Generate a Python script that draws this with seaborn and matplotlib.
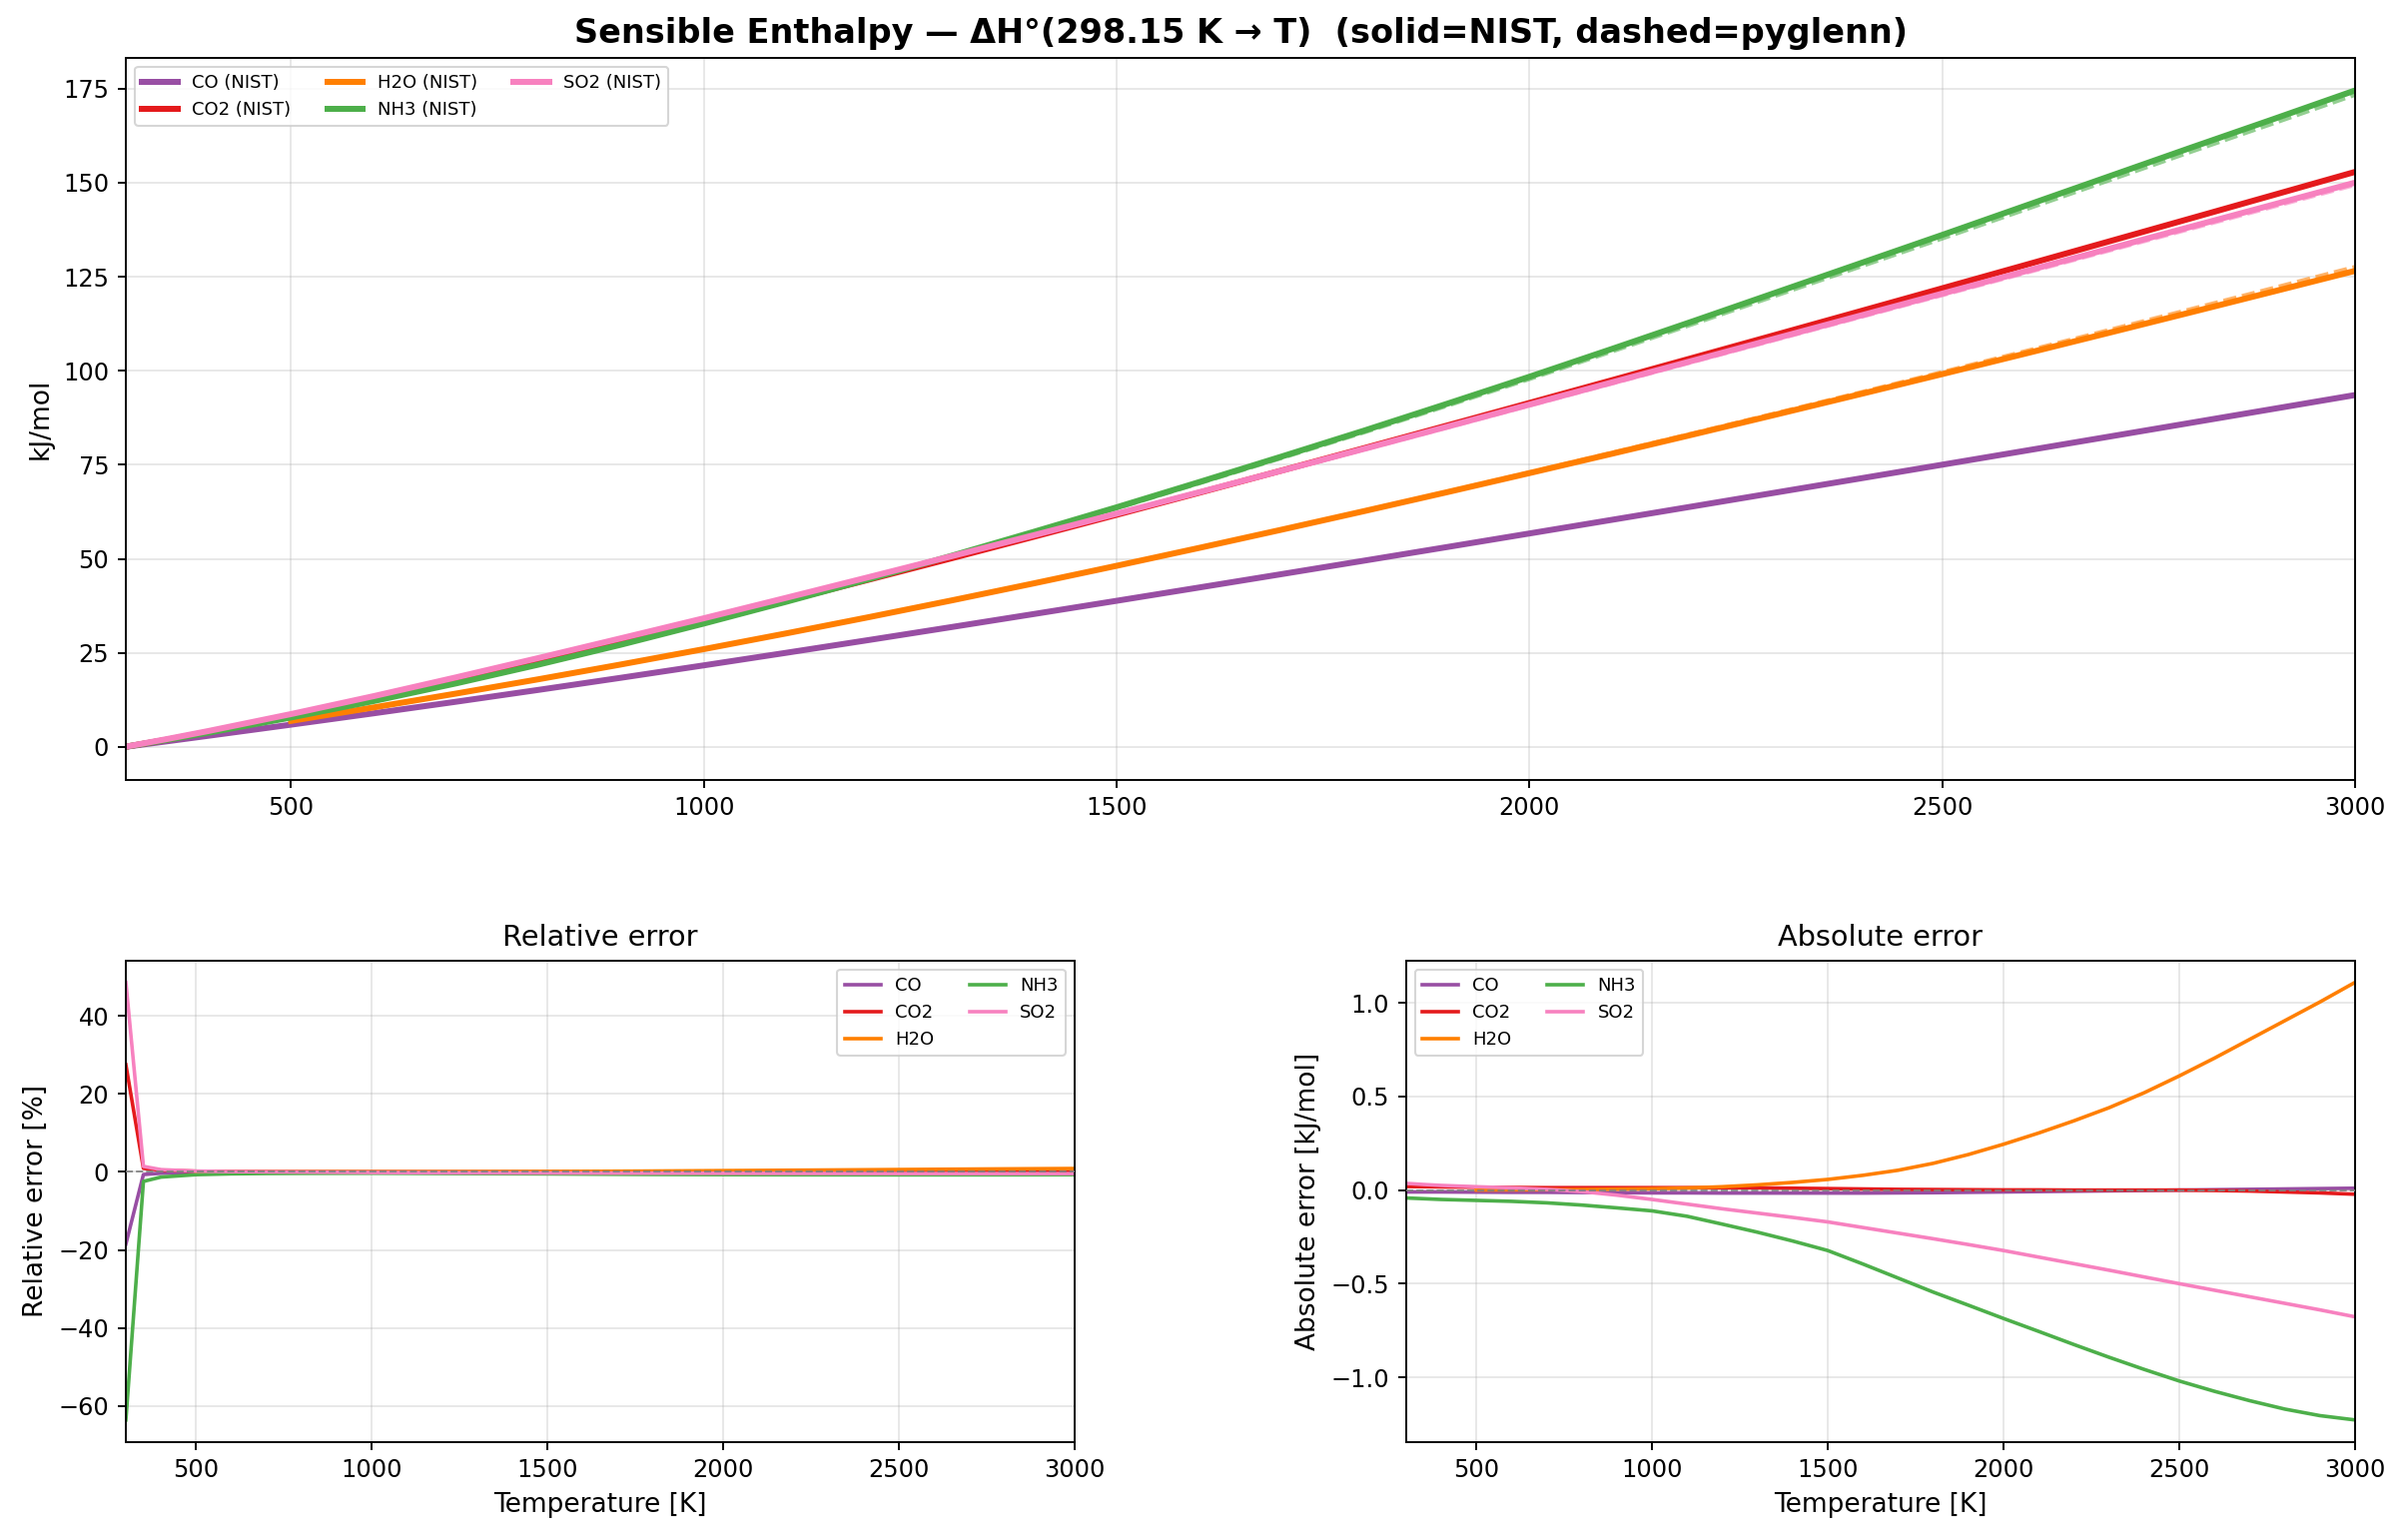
import numpy as np
import pandas as pd
import matplotlib
matplotlib.use("Agg")
import matplotlib.pyplot as plt
import seaborn as sns

nan = np.nan
species = ["CO", "CO2", "H2O", "NH3", "SO2"]
colors = ["#984ea3", "#e41a1c", "#ff7f00", "#4daf4a", "#f781bf"]

T = [300, 350, 400, 500, 600, 700, 800, 900, 1000, 1100, 1200, 1300, 1400, 1500,
     1600, 1700, 1800, 1900, 2000, 2100, 2200, 2300, 2400, 2500, 2600, 2700, 2800,
     2900, 3000]

# NIST sensible enthalpy, kJ/mol
H_CO = [0.054, 1.51, 2.976, 5.931, 8.942, 12.023, 15.177, 18.401, 21.690, 25.035,
        28.430, 31.868, 35.343, 38.850, 42.385, 45.945, 49.526, 53.126, 56.744,
        60.376, 64.021, 67.683, 71.346, 75.023, 78.714, 82.408, 86.115, 89.826, 93.541]
H_CO2 = [0.069, 1.95, 4.003, 8.305, 12.906, 17.754, 22.806, 28.030, 33.397, 38.885,
         44.473, 50.148, 55.896, 61.705, 67.569, 73.480, 79.431, 85.419, 91.439,
         97.488, 103.562, 109.660, 115.779, 121.917, 128.073, 134.246, 140.433,
         146.636, 152.852]
H_H2O = [nan, nan, nan, 6.925, 10.501, 14.192, 18.002, 21.938, 26.000, 30.191,
         34.506, 38.941, 43.493, 48.151, 52.908, 57.758, 62.693, 67.706, 72.790,
         77.941, 83.153, 88.421, 93.741, 99.108, 104.520, 109.973, 115.464,
         120.990, 126.549]
H_NH3 = [0.066, 1.90, 3.79, 7.83, 12.2, 16.9, 21.9, 27.2, 32.8, 38.6, 44.6, 50.8,
         57.2, 63.7, 70.4, 77.2, 84.1, 91.2, 98.4, 105.8, 113.3, 120.9, 128.5,
         136.1, 143.8, 151.5, 159.2, 166.8, 174.5]
H_SO2 = [0.074, 2.11, 4.24, 8.74, 13.5, 18.5, 23.65, 28.9, 34.2, 39.65, 45.15,
         50.7, 56.3, 62.0, 67.7, 73.45, 79.25, 85.1, 91.0, 96.9, 102.8, 108.7,
         114.6, 120.5, 126.4, 132.3, 138.2, 144.1, 150.0]

# Absolute error pyglenn - NIST, kJ/mol
E_CO = [-0.010, -0.010, -0.010, -0.011, -0.012, -0.012, -0.013, -0.014, -0.015,
        -0.015, -0.016, -0.016, -0.016, -0.016, -0.016, -0.015, -0.014, -0.012,
        -0.010, -0.008, -0.006, -0.004, -0.002, 0.000, 0.002, 0.004, 0.006, 0.008,
        0.010]
E_CO2 = [0.019, 0.018, 0.017, 0.015, 0.014, 0.013, 0.013, 0.013, 0.013, 0.013,
         0.012, 0.012, 0.010, 0.008, 0.006, 0.004, 0.003, 0.002, 0.001, 0.001,
         0.000, 0.000, 0.000, 0.000, -0.002, -0.005, -0.010, -0.015, -0.022]
E_H2O = [nan, nan, nan, 0.000, 0.001, 0.002, 0.003, 0.005, 0.007, 0.011, 0.018,
         0.028, 0.041, 0.057, 0.079, 0.106, 0.143, 0.190, 0.245, 0.305, 0.370,
         0.440, 0.520, 0.610, 0.705, 0.805, 0.905, 1.005, 1.110]
E_NH3 = [-0.042, -0.046, -0.050, -0.055, -0.060, -0.068, -0.080, -0.095, -0.111,
         -0.140, -0.182, -0.225, -0.272, -0.323, -0.395, -0.470, -0.545, -0.615,
         -0.686, -0.755, -0.825, -0.893, -0.958, -1.020, -1.075, -1.125, -1.170,
         -1.205, -1.228]
E_SO2 = [0.036, 0.030, 0.025, 0.018, 0.012, 0.004, -0.008, -0.027, -0.050, -0.075,
         -0.100, -0.123, -0.146, -0.170, -0.200, -0.230, -0.260, -0.291, -0.323,
         -0.358, -0.393, -0.428, -0.464, -0.500, -0.535, -0.570, -0.605, -0.640,
         -0.677]

H = dict(zip(species, [H_CO, H_CO2, H_H2O, H_NH3, H_SO2]))
E = dict(zip(species, [E_CO, E_CO2, E_H2O, E_NH3, E_SO2]))

rows = []
for s in species:
    for t, h, e in zip(T, H[s], E[s]):
        rows.append({"species": s, "T": t, "nist": h, "pyglenn": h + e,
                     "abs": e, "rel": 100.0 * e / h})
df = pd.DataFrame(rows).dropna()

k = 1.15
plt.rcParams.update({
    "axes.linewidth": 0.8 * k,
    "xtick.major.width": 0.8 * k, "ytick.major.width": 0.8 * k,
    "xtick.major.size": 3.5 * k, "ytick.major.size": 3.5 * k,
    "xtick.major.pad": 3.5 * k, "ytick.major.pad": 3.5 * k,
    "grid.linewidth": 0.8 * k,
    "axes.titlepad": 6 * k, "axes.labelpad": 4 * k,
})

W, Hpx = 2408, 1542
fig = plt.figure(figsize=(W / 150, Hpx / 150), dpi=150)
ax_top = fig.add_axes([0.05233, 0.49371, 0.92691, 0.46887])
ax_rel = fig.add_axes([0.05233, 0.06375, 0.39451, 0.31258])
ax_abs = fig.add_axes([0.58459, 0.06375, 0.39465, 0.31258])

for s, c in zip(species, colors):
    d = df[df.species == s]
    sns.lineplot(x=d["T"], y=d["nist"], color=c, lw=2.5 * k, label=f"{s} (NIST)",
                 errorbar=None, ax=ax_top)
    sns.lineplot(x=d["T"], y=d["pyglenn"], color=c, lw=1.5 * k, ls="--", alpha=0.6,
                 errorbar=None, ax=ax_top, legend=False)
    sns.lineplot(x=d["T"], y=d["rel"], color=c, lw=1.5 * k, label=s, errorbar=None,
                 ax=ax_rel)
    sns.lineplot(x=d["T"], y=d["abs"], color=c, lw=1.5 * k, label=s, errorbar=None,
                 ax=ax_abs)

for ax in (ax_rel, ax_abs):
    ax.axhline(0, color="gray", ls="--", lw=0.8 * k, alpha=0.9, zorder=3)

ax_top.set_title("Sensible Enthalpy \u2014 \u0394H\u00b0(298.15 K \u2192 T)  (solid=NIST, dashed=pyglenn)",
                 fontsize=14 * k, fontweight="bold")
ax_top.set_ylabel("kJ/mol", fontsize=11 * k)
ax_top.set_xlabel("")
ax_rel.set_title("Relative error", fontsize=12 * k)
ax_rel.set_ylabel("Relative error [%]", fontsize=11 * k)
ax_rel.set_xlabel("Temperature [K]", fontsize=11 * k)
ax_abs.set_title("Absolute error", fontsize=12 * k)
ax_abs.set_ylabel("Absolute error [kJ/mol]", fontsize=11 * k)
ax_abs.set_xlabel("Temperature [K]", fontsize=11 * k)

for ax in (ax_top, ax_rel, ax_abs):
    ax.set_xlim(300, 3000)
    ax.grid(True, alpha=0.3)
    ax.tick_params(labelsize=10 * k)

ax_top.legend(ncol=3, loc="upper left", fontsize=7.5 * k)
ax_rel.legend(ncol=2, loc="upper right", fontsize=7.5 * k)
ax_abs.legend(ncol=2, loc="upper left", fontsize=7.5 * k)

fig.savefig("out.png", dpi=150)
